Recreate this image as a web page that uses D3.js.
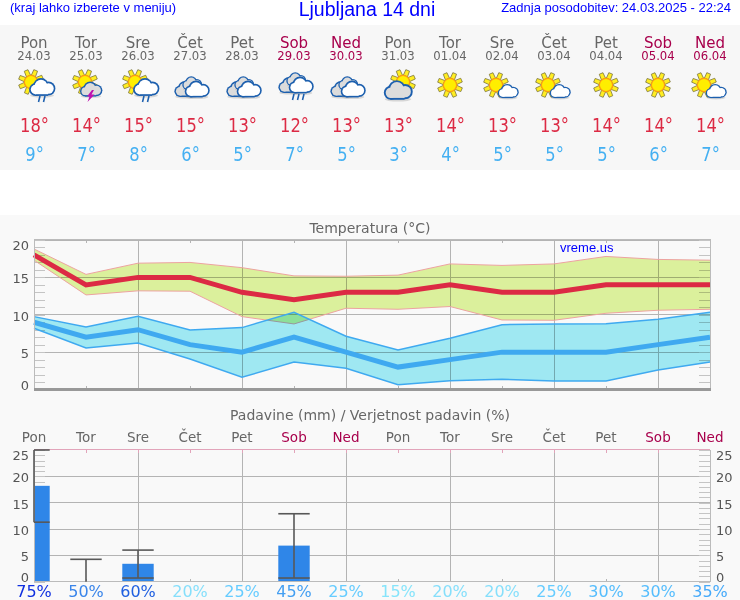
<!DOCTYPE html>
<html>
<head>
<meta charset="utf-8">
<script src="https://cdnjs.cloudflare.com/ajax/libs/d3/7.8.5/d3.min.js"></script>
<style>
body { margin: 0; background: #fff; }
svg { display: block; }
text { font-family: "DejaVu Sans", sans-serif; }
.head { font-family: "Liberation Sans", Arial, sans-serif; fill: #0000ff; }
.band { mix-blend-mode: multiply; }
.crisp line { shape-rendering: crispEdges; }
</style>
</head>
<body>
<script>
// forecast data
var days = ["Pon","Tor","Sre","Čet","Pet","Sob","Ned","Pon","Tor","Sre","Čet","Pet","Sob","Ned"];
var dates = ["24.03","25.03","26.03","27.03","28.03","29.03","30.03","31.03","01.04","02.04","03.04","04.04","05.04","06.04"];
var icons = ["sunRain","sunStorm","sunRain","clouds","clouds","cloudsRain","clouds","cloudSun","sun","sunCloud","sunCloud","sun","sun","sunCloud"];
var tMax = [18,14,15,15,13,12,13,13,14,13,13,14,14,14];
var tMin = [9,7,8,6,5,7,5,3,4,5,5,5,6,7];
var tMaxHigh = [18.8,15.4,16.9,17,16.3,15.2,15.15,15.3,16.8,16.6,16.8,17.8,17.4,17.3];
var tMaxLow = [17.3,12.65,13.2,13.15,9.75,8.77,10.87,10.73,11.1,9.3,9.26,10.2,10.6,10.73];
var tMinHigh = [9.75,8.37,9.8,7.96,8.28,10.33,7.12,5.29,6.85,8.67,8.77,8.8,9.4,10.33];
var tMinLow = [8.19,5.55,6.22,4.08,1.63,3.68,2.83,0.64,1.18,1.36,1.14,1.14,2.6,3.68];
var rain = [18.2,0.1,3.4,0,0,6.85,0,0,0,0,0,0,0,0];
var rainHigh = [25,4.25,6,null,null,12.9,null,null,null,null,null,null,null,null];
var rainLow = [11.3,0,0.7,null,null,0.7,null,null,null,null,null,null,null,null];
var rainProb = [75,50,60,20,25,45,25,15,20,20,25,30,30,35];
var tempTicks = [0,5,10,15,20];
var rainTicks = [0,5,10,15,20,25];

var width = 740, height = 600;
var weekend = "#a8004c", grey = "#666";
var idx = d3.range(days.length);
function dayColor(i) { return days[i] == "Sob" || days[i] == "Ned" ? weekend : grey }

var x = d3.scaleLinear().domain([0,13]).range([34,710]);
var yT = d3.scaleLinear().domain([0,20]).range([389.5,240]);
var yR = d3.scaleLinear().domain([0,25]).range([581.7,450]);
var probColor = d3.scaleThreshold()
  .domain([20,25,30,35,45,50,60,75])
  .range(["#86e4fb","#86dffb","#66ccff","#55bdfd","#46aafa","#449ff2","#3a85ea","#2060e0","#1030e0"]);

var svg = d3.select("body").append("svg").attr("width",width).attr("height",height);
svg.append("rect").attr("x",0).attr("y",25).attr("width",width).attr("height",145).attr("fill","#f7f7f7");
svg.append("rect").attr("x",0).attr("y",215).attr("width",width).attr("height",385).attr("fill","#f9f9f9");

// header
svg.append("text").attr("class","head").attr("x",10).attr("y",12).attr("font-size",13).text("(kraj lahko izberete v meniju)");
svg.append("text").attr("class","head").attr("x",367).attr("y",16).attr("font-size",19.5).attr("text-anchor","middle").text("Ljubljana 14 dni");
svg.append("text").attr("class","head").attr("x",731).attr("y",12).attr("font-size",13).attr("text-anchor","end").text("Zadnja posodobitev: 24.03.2025 - 22:24");

// top strip with one column per day
var col = svg.selectAll(".col").data(idx).enter().append("g")
  .attr("class","col")
  .attr("transform",function (i) { return "translate(" + x(i) + ",0)" });
col.append("text").attr("y",48).attr("text-anchor","middle").attr("font-size",15)
  .attr("fill",dayColor).text(function (i) { return days[i] });
col.append("text").attr("y",60).attr("text-anchor","middle").attr("font-size",11.7)
  .attr("fill",dayColor).text(function (i) { return dates[i] });
// temperatures are narrower than the plain font
col.append("text").attr("y",132).attr("x",0.6).attr("text-anchor","middle").attr("font-size",19)
  .attr("transform","scale(.86,1)")
  .attr("fill","#dc2a44").text(function (i) { return tMax[i] + "°" });
col.append("text").attr("y",161).attr("x",0.6).attr("text-anchor","middle").attr("font-size",19)
  .attr("transform","scale(.86,1)")
  .attr("fill","#44b0f2").text(function (i) { return tMin[i] + "°" });
col.each(function (i) { drawIcon(d3.select(this).append("g"), icons[i]) });

// weather icons
function drawSun(g, cx, cy) {
  var s = g.append("g").attr("transform","translate(" + cx + "," + cy + ")");
  d3.range(8).forEach(function (k) {
    s.append("path").attr("d","M-2.2,-6.5L-2,-12.5L2,-12.5L2.2,-6.5Z")
      .attr("transform","rotate(" + (k*45+22) + ")")
      .attr("fill","#ffee22").attr("stroke","#77703a").attr("stroke-width",0.7);
  });
  s.append("circle").attr("r",6.6).attr("fill","#ffee00").attr("stroke","#ff9c10").attr("stroke-width",1.2);
}
function drawCloud(g, cx, cy, k, fill, line) {
  var c = g.append("g").attr("transform","translate(" + cx + "," + cy + ") scale(" + k + ")");
  var puffs = [[-6.5,2.5,5],[-1,-1,6.5],[6.5,1.5,5.5]];
  c.append("ellipse").attr("cx",0).attr("cy",8.5).attr("rx",12).attr("ry",2).attr("fill","#999").attr("opacity",0.35);
  puffs.forEach(function (p) {
    c.append("circle").attr("cx",p[0]).attr("cy",p[1]).attr("r",p[2]+1.4).attr("fill",line);
  });
  c.append("rect").attr("x",-7).attr("y",1).attr("width",13).attr("height",7.9).attr("fill",line);
  puffs.forEach(function (p) {
    c.append("circle").attr("cx",p[0]).attr("cy",p[1]).attr("r",p[2]-0.3).attr("fill",fill);
  });
  c.append("rect").attr("x",-7).attr("y",1).attr("width",13).attr("height",6.2).attr("fill",fill);
}
function drawDrops(g, list, y) {
  list.forEach(function (dx) {
    g.append("line").attr("x1",dx+1).attr("x2",dx-0.5).attr("y1",y).attr("y2",y+6)
      .attr("stroke","#1c5fae").attr("stroke-width",1.6);
  });
}
function drawThreeClouds(g, dy) {
  var blue = "#1c5fae";
  drawCloud(g, -4, 2+dy, 0.9, "#dcdcdc", blue);
  drawCloud(g, 2, -4+dy, 0.75, "#dcdcdc", blue);
  drawCloud(g, 7, 2+dy, 0.95, "#fff", blue);
}
function drawIcon(g, kind) {
  var blue = "#1c5fae";
  if (kind == "sun") { drawSun(g, 0, 85) }
  if (kind == "sunRain") {
    drawSun(g, -3, 82);
    drawCloud(g, 8, 87, 1, "#fff", blue);
    drawDrops(g, [5,10], 96);
  }
  if (kind == "sunStorm") {
    drawSun(g, -1, 82);
    drawCloud(g, 5, 89, 0.85, "#dcdcdc", blue);
    g.append("path").attr("d","M6,90L1,96.5L3.5,96.5L1.5,102L8.5,94.5L5.5,94.5L8,90Z").attr("fill","#c010b0");
  }
  if (kind == "sunCloud") {
    drawSun(g, -6, 85);
    drawCloud(g, 6, 91, 0.8, "#fff", blue);
  }
  if (kind == "cloudSun") {
    drawSun(g, 5, 82);
    drawCloud(g, 0, 90, 1.1, "#dcdcdc", blue);
  }
  if (kind == "clouds") {
    g.attr("transform","translate(0,87)");
    drawThreeClouds(g, 0);
  }
  if (kind == "cloudsRain") {
    g.attr("transform","translate(0,83)");
    drawThreeClouds(g, 0);
    drawDrops(g, [-1,4,9], 11);
  }
}

// temperature chart
svg.append("text").attr("x",370).attr("y",233).attr("text-anchor","middle").attr("font-size",14)
  .attr("fill",grey).text("Temperatura (°C)");

function gridLines(yScale, values, y0, y1, tickColor) {
  svg.append("g").attr("class","crisp").selectAll("line").data(values).enter().append("line")
    .attr("x1",x(0)).attr("x2",x(13))
    .attr("y1",function (d) { return yScale(d) }).attr("y2",function (d) { return yScale(d) })
    .attr("stroke","#b4b4b4");
  svg.append("g").attr("class","crisp").selectAll("line").data(idx.filter(function (i) { return i % 2 == 0 })).enter().append("line")
    .attr("x1",function (i) { return x(i) }).attr("x2",function (i) { return x(i) })
    .attr("y1",y0).attr("y2",y1).attr("stroke","#b4b4b4");
  svg.append("g").attr("class","crisp").selectAll("line").data(idx).enter().append("line")
    .attr("x1",function (i) { return x(i) }).attr("x2",function (i) { return x(i) })
    .attr("y1",y0).attr("y2",y0+3).attr("stroke",tickColor);
  svg.append("g").attr("class","crisp").selectAll("line").data(idx).enter().append("line")
    .attr("x1",function (i) { return x(i) }).attr("x2",function (i) { return x(i) })
    .attr("y1",y1-3).attr("y2",y1).attr("stroke","#b4b4b4");
}
function minorTicks(yScale, top) {
  var left = d3.axisLeft(yScale).tickValues(d3.range(0,top+1)).tickSize(-11).tickFormat("");
  var right = d3.axisRight(yScale).tickValues(d3.range(0,top+1)).tickSize(-11).tickFormat("");
  [[left,x(0)],[right,x(13)]].forEach(function (a) {
    var g = svg.append("g").attr("class","crisp").attr("transform","translate(" + a[1] + ",0)").call(a[0]);
    g.select(".domain").remove();
    g.selectAll("line").attr("stroke","#c4c4c4");
  });
}
// end labels sit further inside than the gridlines
function tickLabels(yScale, values, xPos, anchor) {
  var top = d3.max(values);
  svg.append("g").selectAll("text").data(values).enter().append("text")
    .attr("x",xPos).attr("text-anchor",anchor).attr("font-size",13).attr("fill","#555")
    .attr("y",function (d) { return yScale(d) + 5 + (d == 0 ? -4.5 : d == top ? 5 : 1) })
    .text(function (d) { return d });
}

gridLines(yT, tempTicks.slice(1,5), 240, 389, "#b4b4b4");
minorTicks(yT, 20);
tickLabels(yT, tempTicks, 29, "end");

var area = function (hi, lo) {
  return d3.area().x(function (i) { return x(i) })
    .y0(function (i) { return yT(lo[i]) }).y1(function (i) { return yT(hi[i]) });
};
var line = function (v) {
  return d3.line().x(function (i) { return x(i) }).y(function (i) { return yT(v[i]) });
};
svg.append("path").attr("class","band").attr("d",area(tMaxHigh,tMaxLow)(idx)).attr("fill","#e1f6a0");
svg.append("path").attr("d",line(tMaxHigh)(idx)).attr("fill","none").attr("stroke","#eda3a0");
svg.append("path").attr("d",line(tMaxLow)(idx)).attr("fill","none").attr("stroke","#eda3a0");
svg.append("path").attr("class","band").attr("d",area(tMinHigh,tMinLow)(idx)).attr("fill","#a3eef8");
svg.append("path").attr("d",line(tMinHigh)(idx)).attr("fill","none").attr("stroke","#3fa9f0").attr("stroke-width",1.5);
svg.append("path").attr("d",line(tMinLow)(idx)).attr("fill","none").attr("stroke","#3fa9f0").attr("stroke-width",1.5);
svg.append("path").attr("d",line(tMax)(idx)).attr("fill","none").attr("stroke","#dc2a44").attr("stroke-width",5);
svg.append("path").attr("d",line(tMin)(idx)).attr("fill","none").attr("stroke","#3fa9f0").attr("stroke-width",5);

svg.append("rect").attr("x",x(0)+0.5).attr("y",239.5).attr("width",x(13)-x(0)).attr("height",149.5)
  .attr("fill","none").attr("stroke","#bbb");
svg.append("line").attr("x1",x(0)).attr("x2",x(13)+1).attr("y1",389.5).attr("y2",389.5).attr("stroke","#999").attr("stroke-width",3);
svg.append("text").attr("class","head").attr("x",560).attr("y",252).attr("font-size",13).text("vreme.us");

// rain chart
svg.append("text").attr("x",370).attr("y",420).attr("text-anchor","middle").attr("font-size",14)
  .attr("fill",grey).text("Padavine (mm) / Verjetnost padavin (%)");
svg.append("g").selectAll("text").data(idx).enter().append("text")
  .attr("x",function (i) { return x(i) }).attr("y",442).attr("text-anchor","middle").attr("font-size",13.5)
  .attr("fill",dayColor).text(function (i) { return days[i] });

gridLines(yR, rainTicks.slice(1,5), 449.5, 581.5, "#e2a4ba");
minorTicks(yR, 25);
tickLabels(yR, rainTicks, 29, "end");
tickLabels(yR, rainTicks, 716, "start");

var halfBar = 15.7;
svg.append("g").selectAll("rect").data(idx.filter(function (i) { return rain[i] > 0 })).enter().append("rect")
  .attr("x",function (i) { return Math.max(x(i)-halfBar, x(0)) })
  .attr("width",function (i) { return x(i)+halfBar - Math.max(x(i)-halfBar, x(0)) })
  .attr("y",function (i) { return yR(rain[i]) })
  .attr("height",function (i) { return yR(0)-yR(rain[i]) })
  .attr("fill","#2f86e8");

var frame = svg.append("g").attr("class","crisp");
frame.append("line").attr("x1",x(0)).attr("x2",x(13)).attr("y1",449.5).attr("y2",449.5).attr("stroke","#e2a4ba");
frame.append("line").attr("x1",x(0)).attr("x2",x(13)).attr("y1",581.5).attr("y2",581.5).attr("stroke","#bbb");
frame.append("line").attr("x1",x(13)).attr("x2",x(13)).attr("y1",449.5).attr("y2",581.5).attr("stroke","#bbb");
frame.append("line").attr("x1",x(0)).attr("x2",x(0)).attr("y1",449.5).attr("y2",581.5).attr("stroke","#bbb");

// error bars
var errs = idx.filter(function (i) { return rainHigh[i] != null });
var err = svg.append("g").attr("stroke","#585858").attr("stroke-width",1.6).selectAll("g").data(errs).enter().append("g");
err.append("line")
  .attr("x1",function (i) { return x(i) }).attr("x2",function (i) { return x(i) })
  .attr("y1",function (i) { return yR(rainHigh[i]) }).attr("y2",function (i) { return yR(rainLow[i]) });
[rainHigh,rainLow].forEach(function (v) {
  err.filter(function (i) { return v[i] > 0 }).append("line")
    .attr("x1",function (i) { return Math.max(x(i)-halfBar, x(0)) }).attr("x2",function (i) { return x(i)+halfBar })
    .attr("y1",function (i) { return yR(v[i]) }).attr("y2",function (i) { return yR(v[i]) });
});

// rain probability
svg.append("g").selectAll("text").data(idx).enter().append("text")
  .attr("x",function (i) { return x(i) }).attr("y",597).attr("text-anchor","middle").attr("font-size",16)
  .attr("fill",function (i) { return probColor(rainProb[i]) })
  .text(function (i) { return rainProb[i] + "%" });
</script>
</body>
</html>
